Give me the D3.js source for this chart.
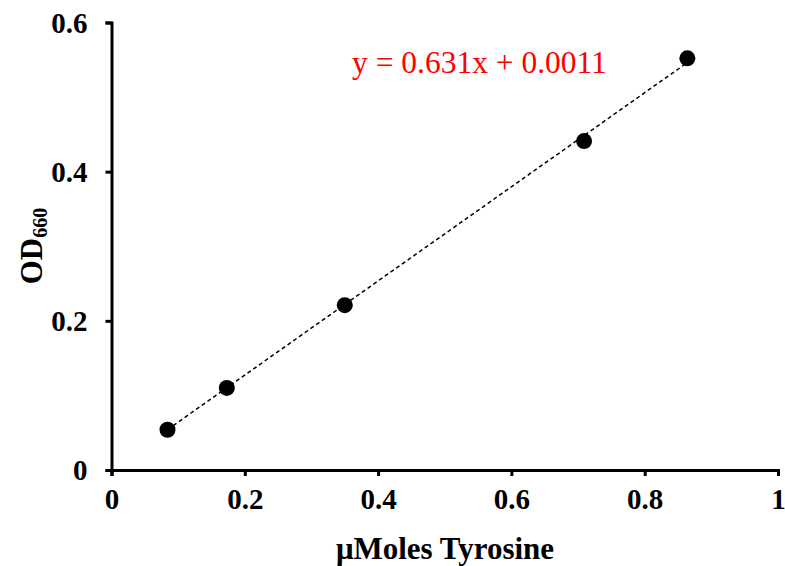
<!DOCTYPE html>
<html>
<head>
<meta charset="utf-8">
<script src="https://cdn.jsdelivr.net/npm/d3@7"></script>
<style>
  html, body { margin: 0; padding: 0; background: #fff; }
  svg { display: block; }
  text { font-family: "Liberation Serif", "Times New Roman", serif; }
</style>
</head>
<body>
<svg id="chart" width="785" height="566"></svg>
<script>
// Tyrosine standard curve
const tyrosine = [0.084, 0.173, 0.350, 0.709, 0.864];   // µmoles
const od660    = [0.054, 0.110, 0.221, 0.441, 0.552];   // absorbance at 660 nm
const slope = 0.631;
const intercept = 0.0011;
const xTicks = [0, 0.2, 0.4, 0.6, 0.8, 1];
const yTicks = [0, 0.2, 0.4, 0.6];
const xTickLabels = ["0", "0.2", "0.4", "0.6", "0.8", "1"];
const yTickLabels = ["0", "0.2", "0.4", "0.6"];

const svg = d3.select("#chart");
const x = d3.scaleLinear().domain([0, 1]).range([111.5, 778]);
const y = d3.scaleLinear().domain([0, 0.6]).range([470, 22.5]);

// Axes
const xAxis = d3.axisBottom(x).tickValues(xTicks)
  .tickFormat((d, i) => xTickLabels[i]).tickSizeOuter(0).tickSize(6).tickPadding(14);
const yAxis = d3.axisLeft(y).tickValues(yTicks)
  .tickFormat((d, i) => yTickLabels[i]).tickSizeOuter(0).tickSize(6).tickPadding(18);

const gx = svg.append("g").attr("transform", `translate(0,${y(0)})`).call(xAxis);
const gy = svg.append("g").attr("transform", `translate(${x(0)},0)`).call(yAxis);

[gx, gy].forEach(g => {
  g.select(".domain").attr("stroke", "#000").attr("stroke-width", 3);
  g.selectAll(".tick line").attr("stroke", "#000").attr("stroke-width", 3);
  g.selectAll(".tick text")
    .attr("fill", "#000")
    .style("font-family", '"Liberation Serif", "Times New Roman", serif')
    .style("font-weight", "bold")
    .style("font-size", "29px");
});
gx.selectAll(".tick text").attr("dy", "0.66em");
gy.selectAll(".tick text").attr("dy", "0.33em");

// Linear fit (dashed), spanning the measured range
const xMin = d3.min(tyrosine), xMax = d3.max(tyrosine);
svg.append("line")
  .attr("x1", x(xMin)).attr("y1", y(slope * xMin + intercept))
  .attr("x2", x(xMax)).attr("y2", y(slope * xMax + intercept))
  .attr("stroke", "#000").attr("stroke-width", 1.5)
  .attr("stroke-dasharray", "4,3");

// Data points
svg.append("g").selectAll("circle")
  .data(tyrosine.map((t, i) => [t, od660[i]]))
  .join("circle")
  .attr("cx", d => x(d[0]))
  .attr("cy", d => y(d[1]))
  .attr("r", 8)
  .attr("fill", "#000");

// Equation of the fit
svg.append("text")
  .attr("x", 352).attr("y", 73)
  .attr("fill", "#ff0000")
  .style("font-size", "31.5px")
  .text(`y = ${slope}x + ${intercept}`);

// Axis titles
svg.append("text")
  .attr("x", 445).attr("y", 559)
  .attr("text-anchor", "middle")
  .style("font-size", "31px").style("font-weight", "bold")
  .text("\u03bcMoles Tyrosine");

const yt = svg.append("text")
  .attr("transform", "translate(42,246) rotate(-90)")
  .attr("text-anchor", "middle")
  .style("font-size", "31px").style("font-weight", "bold");
yt.append("tspan").text("OD");
yt.append("tspan").attr("dy", 5).style("font-size", "20px").text("660");
</script>
</body>
</html>
